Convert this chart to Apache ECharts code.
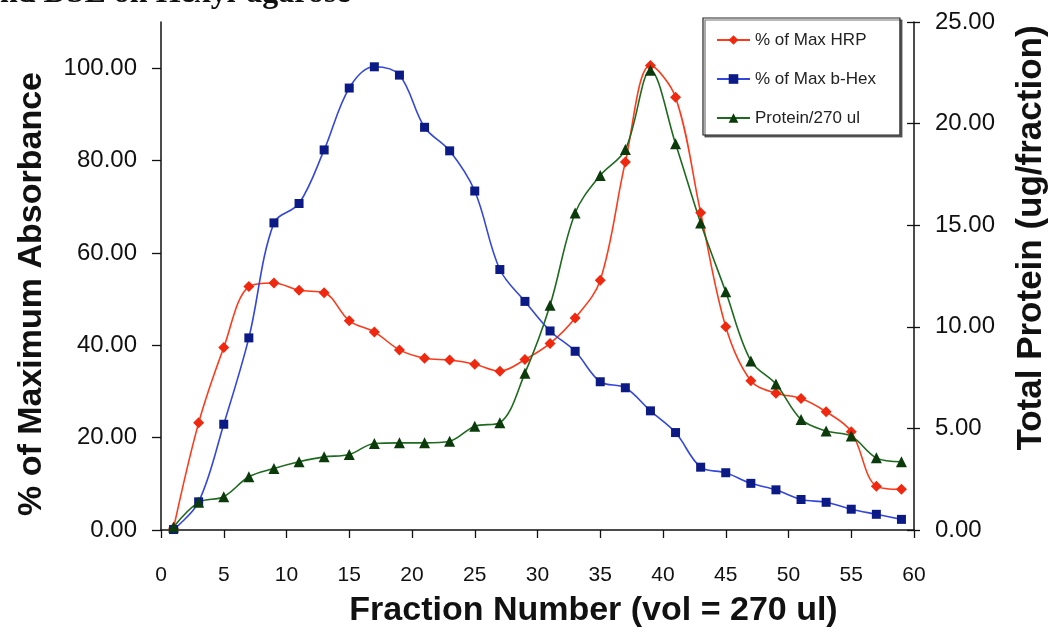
<!DOCTYPE html>
<html>
<head>
<meta charset="utf-8">
<script src="https://cdn.jsdelivr.net/npm/echarts@6/dist/echarts.min.js"></script>
<style>
html,body{margin:0;padding:0;background:#fff;}
#chart{width:1050px;height:634px;}
</style>
</head>
<body>
<div id="chart"></div>
<script>
// Fraction numbers (x values)
var fractions = [1,3,5,7,9,11,13,15,17,19,21,23,25,27,29,31,33,35,37,39,41,43,45,47,49,51,53,55,57,59];
// % of Max HRP (left axis)
var hrp = [0.4,23.2,39.5,52.7,53.5,51.9,51.4,45.3,42.9,39.0,37.2,36.8,35.9,34.4,36.9,40.4,45.9,54.1,79.7,100.6,93.7,68.7,44.0,32.3,29.6,28.5,25.6,21.3,9.5,8.8];
// % of Max b-Hex (left axis)
var bhex = [0.1,6.1,22.9,41.6,66.5,70.7,82.3,95.7,100.3,98.5,87.2,82.1,73.4,56.4,49.5,43.1,38.7,32.1,30.8,25.8,21.1,13.6,12.4,10.1,8.7,6.6,6.0,4.5,3.4,2.3];
// Protein/270 ul (right axis, ug/fraction)
var protein = [0.15,1.36,1.64,2.62,3.03,3.36,3.6,3.72,4.26,4.29,4.29,4.37,5.11,5.28,7.72,11.06,15.6,17.45,18.72,22.62,19.01,15.11,11.72,8.32,7.18,5.44,4.87,4.62,3.55,3.36];
// Tick values
var leftTicks = [0,20,40,60,80,100];
var rightTicks = [0,5,10,15,20,25];
var seriesNames = ['% of Max HRP','% of Max b-Hex','Protein/270 ul'];

function pairs(vals){ return fractions.map(function(f,i){ return [f, vals[i]]; }); }

var FONT = "'Liberation Sans', Arial, sans-serif";
var chart = echarts.init(document.getElementById('chart'), null, {renderer:'canvas'});
chart.setOption({
  backgroundColor:'#fff',
  animation:false,
  graphic:[{
    type:'text', left:0, top:-22,
    style:{text:'nd DSE on Hexyl-agarose', font:"bold 32px 'Liberation Serif', serif", fill:'#111'}
  }],
  grid:{left:161, right:136, top:22, bottom:104, containLabel:false, outerBoundsMode:'none'},
  legend:{
    orient:'vertical', left:703, top:18,
    data:seriesNames,
    padding:[12,24,7,13],
    itemWidth:33, itemHeight:12, itemGap:19,
    borderColor:'#222', borderWidth:1.2,
    backgroundColor:'#fff',
    shadowColor:'rgba(0,0,0,0.55)', shadowOffsetX:2, shadowOffsetY:2, shadowBlur:0,
    textStyle:{fontFamily:FONT, fontSize:17, color:'#222', lineHeight:20}
  },
  xAxis:{
    type:'value', min:0, max:60, interval:5,
    axisLine:{show:true, onZero:false, lineStyle:{color:'#111', width:1.5}},
    axisTick:{show:true, inside:false, length:8, lineStyle:{color:'#111', width:1.3}},
    splitLine:{show:false},
    axisLabel:{fontFamily:FONT, fontSize:21, color:'#111', margin:35},
    name:'Fraction Number (vol = 270 ul)', nameLocation:'middle', nameGap:64,
    nameTextStyle:{fontFamily:FONT, fontSize:34, fontWeight:'bold', color:'#111', padding:[0,0,0,112]}
  },
  yAxis:[{
    type:'value', min:0, max:110, interval:20, position:'left',
    axisLine:{show:true, lineStyle:{color:'#111', width:1.5}},
    axisTick:{show:true, inside:false, length:9, customValues:leftTicks, lineStyle:{color:'#111', width:1.3}},
    splitLine:{show:false},
    axisLabel:{fontFamily:FONT, fontSize:24, color:'#111', margin:24, customValues:leftTicks,
      formatter:function(v){return v.toFixed(2);}},
    name:'% of Maximum Absorbance', nameLocation:'middle', nameRotate:90, nameGap:112,
    nameTextStyle:{fontFamily:FONT, fontSize:34, fontWeight:'bold', color:'#111', padding:[0,36,0,0]}
  },{
    type:'value', min:0, max:25, interval:5, position:'right',
    axisLine:{show:true, lineStyle:{color:'#111', width:1.5}},
    axisTick:{show:true, inside:false, length:6, customValues:rightTicks, lineStyle:{color:'#111', width:1.3}},
    splitLine:{show:false},
    axisLabel:{fontFamily:FONT, fontSize:24, color:'#111', margin:21, customValues:rightTicks,
      formatter:function(v){return v.toFixed(2);}},
    name:'Total Protein (ug/fraction)', nameLocation:'middle', nameRotate:90, nameGap:100,
    nameTextStyle:{fontFamily:FONT, fontSize:35, fontWeight:'bold', color:'#111', padding:[0,0,0,76]}
  },{
    type:'value', min:0, max:25, interval:5, position:'right',
    axisLine:{show:false},
    axisTick:{show:true, inside:true, length:7, customValues:rightTicks, lineStyle:{color:'#111', width:1.3}},
    splitLine:{show:false},
    axisLabel:{show:false}
  }],
  series:[{
    name:seriesNames[0], type:'line', yAxisIndex:0, smooth:0.35,
    data:pairs(hrp),
    symbol:'diamond', symbolSize:11,
    lineStyle:{color:'#ff3a1a', width:1.6},
    itemStyle:{color:'#f02810'}
  },{
    name:seriesNames[1], type:'line', yAxisIndex:0, smooth:0.35,
    data:pairs(bhex),
    symbol:'rect', symbolSize:9,
    lineStyle:{color:'#3347dd', width:1.6},
    itemStyle:{color:'#0c1a86'}
  },{
    name:seriesNames[2], type:'line', yAxisIndex:1, smooth:0.35,
    data:pairs(protein),
    symbol:'triangle', symbolSize:11,
    lineStyle:{color:'#1e6a1e', width:1.6},
    itemStyle:{color:'#0b3b0b'}
  }]
});
</script>
</body>
</html>
